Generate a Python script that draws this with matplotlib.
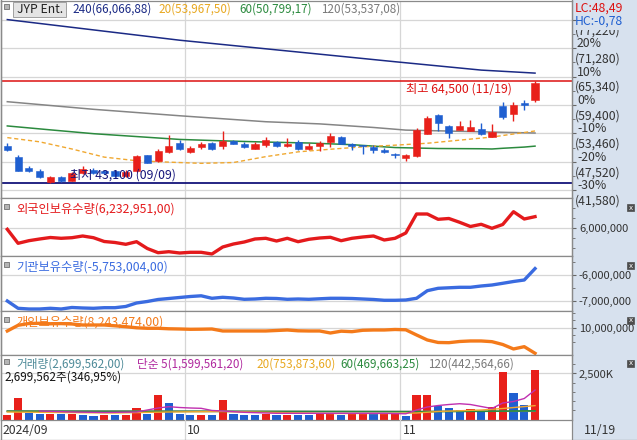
import matplotlib
matplotlib.use("Agg")
import matplotlib.pyplot as plt
import matplotlib.transforms as mtransforms
from matplotlib.patches import Rectangle

plt.rcParams['font.family'] = ['Noto Sans CJK KR', 'DejaVu Sans']

W, H = 637, 440
STEP = 10.77      # px between two candles
X0 = 7.3          # px of first candle
RIGHT = 572       # px where the blue axis column starts

# trading days shown (2024)
sep_days = [3, 4, 5, 6, 9, 10, 11, 12, 13, 19, 20, 23, 24, 25, 26, 27, 30]
oct_days = [2, 4, 7, 8, 10, 11, 14, 15, 16, 17, 18, 21, 22, 23, 24, 25, 28, 29, 30, 31]
nov_days = [1, 4, 5, 6, 7, 8, 11, 12, 13, 14, 15, 18, 19]

opens = [50900, 48600, 46200, 45650, 43400, 44250, 43600, 45150, 45850, 45700,
         45650, 44600, 45500, 48850, 47600, 49650, 51400, 49650, 50700, 51400,
         50900, 51900, 51200, 50300, 51100, 51650, 50750, 51700, 50300, 50850,
         51750, 52800, 51200, 51000, 50700, 50000, 49200, 48300, 48650, 53400,
         57300, 55000, 54200, 54050, 54400, 52800, 59200, 57500, 59800, 60400]
highs = [51500, 49000, 46700, 46000, 44600, 44450, 45300, 46700, 46200, 45850,
         45850, 45850, 49000, 48900, 50200, 53200, 52000, 50850, 51600, 51750,
         53900, 52150, 51600, 51700, 52800, 51800, 52450, 52100, 51550, 51850,
         53500, 53000, 51550, 51050, 51050, 50450, 49450, 49200, 54500, 57200,
         57500, 55300, 56100, 56300, 55700, 55400, 60100, 60100, 60400, 64500]
lows = [49800, 45500, 45400, 44200, 43100, 43350, 43550, 45000, 45000, 45050,
        44400, 44400, 45350, 47300, 47500, 49350, 50000, 49450, 50200, 49950,
        50300, 51150, 50400, 50100, 50600, 50650, 50600, 49900, 50000, 49800,
        50700, 51150, 49900, 49150, 49350, 49350, 48300, 47750, 48550, 53250,
        54000, 52450, 54100, 54000, 53150, 52700, 56400, 56100, 58400, 60100]
closes = [49900, 45700, 45500, 44350, 44250, 43550, 45150, 46050, 45150, 45150,
          44600, 45450, 48650, 47350, 49800, 50900, 50200, 50500, 51200, 50150,
          51900, 51250, 50600, 51300, 52000, 50750, 51150, 50150, 50850, 51550,
          52900, 51200, 50900, 50900, 49900, 49550, 48850, 49000, 54200, 56700,
          55600, 53600, 55000, 54900, 53300, 53850, 56800, 59400, 59300, 64000]

# price moving averages (candle index, value)
ma240_idx = [0, 16, 29, 36, 44, 49]
ma240_val = [77260, 72950, 70030, 68450, 66700, 66070]
ma120_idx = [0, 8, 16, 24, 29, 34, 37, 42, 49]
ma120_val = [60090, 58500, 57150, 55900, 55450, 54700, 54150, 53900, 53540]
ma60_idx = [0, 4, 8, 12, 16, 20, 24, 28, 32, 36, 40, 44, 45, 46, 48, 49]
ma60_val = [55020, 54200, 53400, 52800, 52200, 51900, 51650, 51450, 51100, 50500,
            50300, 50250, 50200, 50350, 50600, 50800]
ma20_idx = [0, 3, 6, 9, 12, 15, 18, 21, 24, 27, 30, 33, 36, 39, 42, 45, 49]
ma20_val = [52580, 51700, 50200, 48500, 47750, 47450, 47200, 47370, 48600, 49600,
            50150, 50650, 51000, 51400, 52050, 52700, 53970]

base_price = 59400
pct_levels = [30, 20, 10, 0, -10, -20, -30]

foreign = [5980000, 5700000, 5752000, 5786000, 5816000, 5800000, 5812000, 5846000, 5812000, 5736000,
           5716000, 5680000, 5732000, 5596000, 5512000, 5532000, 5506000, 5520000, 5520000, 5486000,
           5626000, 5686000, 5726000, 5786000, 5800000, 5746000, 5800000, 5732000, 5780000, 5806000,
           5820000, 5752000, 5800000, 5826000, 5846000, 5766000, 5800000, 5906000, 6286000, 6286000,
           6180000, 6196000, 6120000, 6036000, 6080000, 6000000, 6076000, 6332000, 6186000, 6233000]
institution = [-7000000, -7281000, -7308000, -7308000, -7281000, -7308000, -7250000, -7269000, -7281000, -7258000,
               -7258000, -7211000, -7077000, -7019000, -6942000, -6904000, -6865000, -6827000, -6800000, -6896000,
               -6858000, -6885000, -6935000, -6923000, -6896000, -6904000, -6935000, -6923000, -6935000, -6915000,
               -6896000, -6896000, -6904000, -6923000, -6942000, -6973000, -6973000, -6962000, -6896000, -6604000,
               -6512000, -6492000, -6473000, -6473000, -6423000, -6385000, -6319000, -6250000, -6192000, -5753000]
individual = [9774000, 10165000, 10288000, 10302000, 10268000, 10281000, 10254000, 10185000, 10185000, 10185000,
              10130000, 10069000, 9993000, 9959000, 9959000, 9925000, 9911000, 9890000, 9897000, 9911000,
              9774000, 9774000, 9774000, 9774000, 9774000, 9808000, 9842000, 9787000, 9774000, 9774000,
              9636000, 9760000, 9726000, 9822000, 9842000, 9842000, 9877000, 9856000, 9499000, 9156000,
              8985000, 8971000, 9053000, 9088000, 9088000, 9040000, 8847000, 8539000, 8697000, 8243000]

volume = [245, 1185, 337, 300, 310, 290, 300, 250, 190, 245,
          240, 250, 640, 285, 1330, 910, 285, 245, 250, 240,
          1060, 280, 270, 245, 285, 250, 255, 245, 240, 315,
          370, 245, 300, 310, 280, 300, 310, 190, 1330, 1340,
          750, 640, 540, 560, 478, 663, 2598, 1457, 778, 2699.562]  # thousand shares
vol5_idx = [3, 6, 9, 12, 13, 14, 15, 16, 17, 18, 19, 20, 22, 25, 30, 35, 37, 38, 39,
            40, 41, 42, 43, 44, 45, 46, 47, 48, 49]
vol5_val = [462, 408, 380, 408, 516, 625, 696, 652, 625, 608, 490, 462, 390, 337, 337, 337, 310, 516, 680,
            760, 815, 858, 815, 706, 598, 897, 978, 1141, 1600]
vol20_idx = [0, 10, 15, 20, 25, 30, 35, 38, 40, 44, 46, 49]
vol20_val = [408, 353, 408, 435, 380, 326, 326, 353, 435, 516, 598, 754]
vol60_idx = [0, 20, 38, 49]
vol60_val = [450, 440, 420, 470]
vol120_idx = [0, 25, 49]
vol120_val = [470, 450, 443]

UP = '#e8201a'
DOWN = '#1f5fd0'
GRID = '#d6d6d6'
SPINE = '#8a8a8a'
AXBG = '#d7e1ee'
FS = 8.4

fig = plt.figure(figsize=(W / 100, H / 100), dpi=100)
fig.patches.append(Rectangle((RIGHT / W, 0), 1 - RIGHT / W, 1, transform=fig.transFigure,
                             facecolor=AXBG, edgecolor='none', zorder=-5))

n = len(closes)
idx = list(range(n))
month_sep = [len(sep_days) - 0.5, len(sep_days) + len(oct_days) - 0.5]


def fx(x):
    return x / W


def fy(y):
    return 1 - y / H


def ftext(x, y, s, **kw):
    kw.setdefault('va', 'center')
    kw.setdefault('fontsize', FS)
    return fig.text(fx(x), fy(y), s, **kw)


def icon(x, y):
    fig.patches.append(Rectangle((fx(x), fy(y + 3)), 5 / W, 5 / H, transform=fig.transFigure,
                                 facecolor='#b5b5b5', edgecolor='#707070', lw=0.6))


def close_box(y):
    fig.patches.append(Rectangle((fx(627), fy(y + 3.5)), 7 / W, 7 / H, transform=fig.transFigure,
                                 facecolor='#4d4d4d', edgecolor='#4d4d4d', lw=0.5, zorder=5))
    ftext(630.5, y, 'x', color='white', fontsize=5, ha='center', zorder=6, family='DejaVu Sans')


def panel(y0, y1):
    ax = fig.add_axes([fx(1), fy(y1), (RIGHT - 1) / W, (y1 - y0) / H])
    ax.set_xlim((1 - X0) / STEP, (RIGHT - X0) / STEP)
    ax.set_xticks([])
    for s in ax.spines.values():
        s.set_color(SPINE)
        s.set_linewidth(0.9)
    ax.yaxis.tick_right()
    ax.tick_params(axis='y', which='both', direction='out', length=3, pad=2,
                   color='#666666', labelsize=8.0, labelcolor='#333333')
    ax.tick_params(axis='y', which='minor', length=2)
    for m in month_sep:
        ax.axvline(m, color=GRID, lw=0.9, zorder=0)
    return ax


def draw_main():
    ax = panel(1, 198)
    ax.set_ylim(39950, 81150)
    levels = [base_price * (1 + p / 100) for p in pct_levels]
    for lv in levels:
        ax.axhline(lv, color=GRID, lw=0.9, zorder=0)
    ax.set_yticks(levels)
    ax.set_yticklabels([''] * len(levels))
    ax.set_yticks([base_price * (1 + (p + 5) / 100) for p in pct_levels[1:]], minor=True)
    tr = mtransforms.blended_transform_factory(ax.transAxes, ax.transData)
    for p, lv in zip(pct_levels, levels):
        if p != 30:
            ax.annotate(f'{p}%', (1, lv), xycoords=tr, xytext=(3.6, 3.2), textcoords='offset points',
                        fontsize=8.8, color='#333333', va='center', ha='left', annotation_clip=False)
        t = ax.annotate(f'({lv:,.0f})', (1, lv), xycoords=tr, xytext=(2.2, -7.8), textcoords='offset points',
                        fontsize=8.8, color='#333333', va='center', ha='left', annotation_clip=False)
        if p == 30:
            # only the lower half shows under the HC label, as on the screen
            t.set_clip_box(mtransforms.Bbox.from_extents(RIGHT, 0, W, H - 29.5))
            t.set_clip_on(True)

    # moving averages
    ax.plot(ma240_idx, ma240_val, color='#1b2a85', lw=1.1, zorder=2)
    ax.plot(ma120_idx, ma120_val, color='#858585', lw=1.1, zorder=2)
    ax.plot(ma60_idx, ma60_val, color='#2b8a3e', lw=1.1, zorder=2)
    ax.plot(ma20_idx, ma20_val, color='#f0a830', lw=1.0, ls=(0, (3, 2)), zorder=2)

    # high / low lines
    hi = max(highs)
    lo = min(lows)
    ih = highs.index(hi)
    il = lows.index(lo)
    ax.axhline(hi, color='#dd1111', lw=1.1, zorder=2)
    ax.axhline(lo, color='#14147a', lw=1.3, zorder=2)

    # candles
    for i in idx:
        col = UP if closes[i] >= opens[i] else DOWN
        ax.vlines(i, lows[i], highs[i], color=col, lw=1.0, zorder=3)
        b0 = min(opens[i], closes[i])
        bh = max(abs(closes[i] - opens[i]), 120)
        ax.add_patch(Rectangle((i - 0.33, b0), 0.66, bh, facecolor=col, edgecolor=col, lw=0.4, zorder=4))

    all_days = [(9, d) for d in sep_days] + [(10, d) for d in oct_days] + [(11, d) for d in nov_days]
    mh, dh = all_days[ih]
    ml, dl = all_days[il]
    ax.annotate(f'최고 {hi:,} ({mh:02d}/{dh:02d})', (ih, hi), xytext=(-17, -6), textcoords='offset points',
                color='#dd1111', fontsize=8.8, ha='right', va='center', zorder=5)
    ax.annotate(f'최저 {lo:,} ({ml:02d}/{dl:02d})', (il, lo), xytext=(14, 6), textcoords='offset points',
                color='#14147a', fontsize=8.8, ha='left', va='center', zorder=5)

    # legend row
    icon(4, 6)
    fig.patches.append(Rectangle((fx(13), fy(17.5)), 53 / W, 15.5 / H, transform=fig.transFigure,
                                 facecolor='#e4e4e4', edgecolor='#a0a0a0', lw=0.7, zorder=3))
    ftext(17, 9.5, 'JYP Ent.', color='#222222', zorder=4, fontsize=8.8)
    ftext(72, 9.5, '240(66,066,88)', color='#1b2a85')
    ftext(158, 9.5, '20(53,967,50)', color='#e8a820')
    ftext(239, 9.5, '60(50,799,17)', color='#2b8a3e')
    ftext(321, 9.5, '120(53,537,08)', color='#7a7a7a')

    close_pct = (closes[-1] / lo - 1) * 100
    hc_pct = (closes[-1] / hi - 1) * 100
    ftext(575, 8.5, f'LC:{close_pct:.2f}'.replace('.', ','), color='#dd1111', zorder=6, fontsize=8.8)
    ftext(575, 21, f'HC:{hc_pct:.2f}'.replace('.', ','), color='#1f5fd0', zorder=6, fontsize=8.8)
    return ax


def draw_line_panel(y0, y1, values, ylim, ticks, labels, minor, color, title):
    ax = panel(y0, y1)
    ax.set_ylim(*ylim)
    for t in ticks:
        ax.axhline(t, color=GRID, lw=0.9, zorder=0)
    ax.set_yticks(ticks)
    ax.set_yticklabels(labels)
    ax.set_yticks(minor, minor=True)
    ax.plot(idx, values, color=color, lw=2.4, solid_joinstyle='round', zorder=3)
    icon(4, y0 + 8)
    ftext(16, y0 + 11, title, color=color, fontsize=8.8)
    close_box(y0 + 9.5)
    return ax


def draw_volume():
    ax = panel(355, 420)
    ax.set_ylim(-27000, 3505000)
    ax.axhline(2500000, color=GRID, lw=0.9, zorder=0)
    ax.set_yticks([2500000])
    ax.set_yticklabels(['2,500K'])
    ax.set_yticks([500000, 1000000, 1500000, 2000000, 3000000], minor=True)
    shares = [v * 1000 for v in volume]
    cols = [UP] + [UP if volume[i] >= volume[i - 1] else DOWN for i in range(1, n)]
    ax.bar(idx, shares, width=0.76, color=cols, zorder=2)
    ax.plot(vol120_idx, [v * 1000 for v in vol120_val], color='#8a8a8a', lw=1.0, zorder=3)
    ax.plot(vol60_idx, [v * 1000 for v in vol60_val], color='#2b8a3e', lw=1.2, zorder=3)
    ax.plot(vol20_idx, [v * 1000 for v in vol20_val], color='#f0a830', lw=1.0, zorder=3)
    ax.plot(vol5_idx, [v * 1000 for v in vol5_val], color='#c030b0', lw=1.0, zorder=3)

    icon(4, 361)
    ftext(16, 364, '거래량(2,699,562,00)', color='#4d8a98')
    items = [('단순 5(1,599,561,20)', '#b0289e', 137),
             ('20(753,873,60)', '#e8a820', 256),
             ('60(469,663,25)', '#2b8a3e', 340),
             ('120(442,564,66)', '#7a7a7a', 428)]
    for s, c, x in items:
        ftext(x, 364, s, color=c)
    ftext(4, 377, '2,699,562주(346,95%)', color='#111111')
    close_box(363)
    return ax


def draw_xaxis():
    ftext(3, 430, '2024/09', color='#333333', fontsize=8.8)
    for m, lab in zip(month_sep, ['10', '11']):
        xp = X0 + m * STEP
        fig.add_artist(plt.Line2D([fx(xp), fx(xp)], [fy(420), fy(440)], color=GRID, lw=0.9))
        ftext(xp + 2, 430, lab, color='#333333', fontsize=8.8)
    ftext(584, 430, f'11/{nov_days[-1]}', color='#333333', fontsize=8.8)
    fig.add_artist(plt.Line2D([0, 1], [fy(439.5), fy(439.5)], color=SPINE, lw=0.9))
    fig.add_artist(plt.Line2D([fx(RIGHT), fx(RIGHT)], [0, 1], color=SPINE, lw=0.9))
    fig.add_artist(plt.Line2D([fx(0.5), fx(0.5)], [0, 1], color=SPINE, lw=1.0))


def main():
    draw_main()
    draw_line_panel(198, 256, foreign, (5446000, 6606000), [6000000], ['6,000,000'],
                    [5600000, 5800000, 6200000, 6400000], '#e41a1c', '외국인보유수량(6,232,951,00)')
    draw_line_panel(256, 311, institution, (-7385000, -5269000), [-6000000, -7000000],
                    ['-6,000,000', '-7,000,000'], [-5500000, -6500000], '#3a6be0',
                    '기관보유수량(-5,753,004,00)')
    draw_line_panel(311, 355, individual, (8125000, 11146000), [10000000], ['10,000,000'],
                    [9000000, 9500000, 10500000, 11000000], '#f47a1a', '개인보유수량(8,243,474,00)')
    draw_volume()
    draw_xaxis()
    fig.savefig('out.png', dpi=100)


if __name__ == "__main__":
    main()
